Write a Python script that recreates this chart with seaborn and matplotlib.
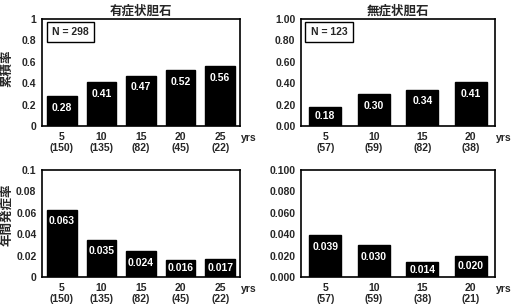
import numpy as np
import pandas as pd
import matplotlib
matplotlib.use("Agg")
import matplotlib.pyplot as plt
import seaborn as sns

# data
years_sym = ["5", "10", "15", "20", "25"]
n_sym_cum = ["150", "135", "82", "45", "22"]
n_sym_ann = ["150", "135", "82", "45", "22"]
cum_sym = [0.28, 0.41, 0.47, 0.52, 0.56]
ann_sym = [0.063, 0.035, 0.024, 0.016, 0.017]

years_asym = ["5", "10", "15", "20"]
n_asym_cum = ["57", "59", "82", "38"]
n_asym_ann = ["57", "59", "38", "21"]
cum_asym = [0.18, 0.30, 0.34, 0.41]
ann_asym = [0.039, 0.030, 0.014, 0.020]

sns.set_style("white")
plt.rcParams["font.family"] = ["Liberation Sans", "Noto Sans CJK JP"]
plt.rcParams["font.weight"] = "bold"

fig = plt.figure(figsize=(5.11, 3.05), dpi=100)
W, H = 511, 305


def add_ax(x0, y0, x1, y1):
    return fig.add_axes([x0 / W, 1 - y1 / H, (x1 - x0) / W, (y1 - y0) / H])


panels = [
    # (box px, years, n, values, ylim, yticks, fmt, bar width, title, ylabel, ylabel y px, N, label fmt)
    ((42, 19, 240, 126), years_sym, n_sym_cum, cum_sym, 1.0,
     np.arange(0, 1.01, 0.2), "{:g}", 0.75, "有症状胆石", "累積率", 68, "N = 298", "{:.2f}"),
    ((301, 19, 495, 126), years_asym, n_asym_cum, cum_asym, 1.0,
     np.arange(0, 1.01, 0.2), "{:.2f}", 0.67, "無症状胆石", None, 0, "N = 123", "{:.2f}"),
    ((42, 170, 240, 277), years_sym, n_sym_ann, ann_sym, 0.1,
     np.arange(0, 0.101, 0.02), "{:g}", 0.75, None, "年間発症率", 215, None, "{:.3f}"),
    ((301, 170, 495, 277), years_asym, n_asym_ann, ann_asym, 0.1,
     np.arange(0, 0.101, 0.02), "{:.3f}", 0.67, None, None, 0, None, "{:.3f}"),
]

for box, yrs, ns, vals, ymax, yticks, fmt, bw, title, ylabel, ylab_y, ntext, lfmt in panels:
    ax = add_ax(*box)
    labels = [f"{y}\n({n})" for y, n in zip(yrs, ns)]
    df = pd.DataFrame({"label": labels, "value": vals})
    sns.barplot(data=df, x="label", y="value", ax=ax, color="black",
                edgecolor="black", width=bw, saturation=1)
    ax.set_xlim(-0.5, len(vals) - 0.5)
    ax.set_ylim(0, ymax)
    ax.set_yticks(yticks)
    ax.set_yticklabels([fmt.format(t) for t in yticks])
    ax.tick_params(axis="both", length=0, labelsize=7.5, pad=4)
    ax.set_xlabel("")
    ax.set_ylabel("")
    for s in ax.spines.values():
        s.set_color("black")
        s.set_linewidth(1.2)
    for i, v in enumerate(vals):
        ly = max(v - 0.11 * ymax, v * 0.5)
        ax.text(i, ly, lfmt.format(v), color="white", ha="center",
                va="center", fontsize=7.5, fontweight="bold")
    ax.annotate("yrs", xy=(1, 0), xycoords="axes fraction",
                xytext=(1, -8.5), textcoords="offset points",
                ha="left", va="center", fontsize=7.5, fontweight="bold")
    if title:
        ax.set_title(title, fontsize=9, fontweight="bold", pad=3)
    if ntext:
        ax.text(0.05, 0.88, ntext, transform=ax.transAxes, fontsize=7.5,
                fontweight="bold", ha="left", va="center",
                bbox=dict(boxstyle="square,pad=0.5", fc="white",
                          ec="black", lw=1))
    if ylabel:
        fig.text(7 / W, 1 - ylab_y / H, ylabel, rotation=90,
                 ha="center", va="center", fontsize=9, fontweight="bold")

fig.savefig("out.png", dpi=100)
